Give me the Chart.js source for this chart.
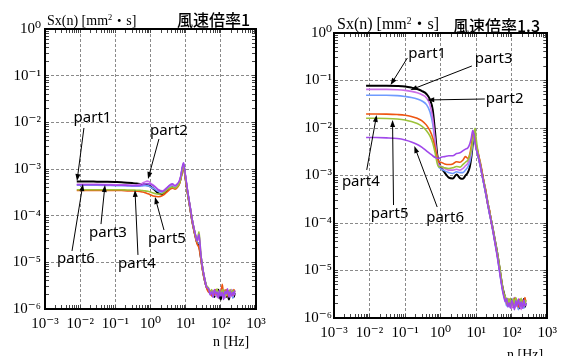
<!DOCTYPE html>
<html>
<head>
<meta charset="utf-8">
<script src="https://cdn.jsdelivr.net/npm/chart.js@4.4.1/dist/chart.umd.min.js"></script>
<style>
  html, body { margin: 0; padding: 0; background: #fff; }
  #page { position: relative; width: 567px; height: 356px; overflow: hidden; }
  canvas { position: absolute; top: 0; }
  .lbl { position: absolute; white-space: nowrap; color: #000; line-height: 1; }
  .serif { font-family: "Liberation Serif", "Noto Sans CJK JP", serif; }
  .jp { font-family: "Noto Sans CJK JP", sans-serif; font-weight: 500; }
  .lbl sup { font-size: 0.6em; vertical-align: 0; position: relative; top: -0.55em; }
</style>
</head>
<body>
<div id="page">
  <canvas id="chartLeft" width="283" height="356" style="left:0"></canvas>
  <canvas id="chartRight" width="284" height="356" style="left:283px"></canvas>
  <div class="lbl serif" style="left:47px; top:14px; font-size:14px">Sx(n) [mm<sup>2</sup>・s]</div>
  <div class="lbl jp" style="left:177px; top:11px; font-size:16px">風速倍率1</div>
  <div class="lbl serif" style="left:213px; top:335px; font-size:14px">n [Hz]</div>
  <div class="lbl serif" style="left:337px; top:16px; font-size:16px">Sx(n) [mm<sup>2</sup>・s]</div>
  <div class="lbl jp" style="left:453px; top:17px; font-size:16px">風速倍率1.3</div>
  <div class="lbl serif" style="left:507px; top:348px; font-size:14px">n [Hz]</div>
</div>
<script>
// frequency of every sample [Hz]
var freqHz = [0.008, 0.015, 0.03, 0.06, 0.1, 0.15, 0.22, 0.3, 0.4, 0.5, 0.6, 0.7, 0.8, 0.9,
  1.0, 1.3, 1.7, 2.2, 2.8, 3.5, 4.2, 5.0, 5.8, 6.6, 7.3, 8.0, 8.7, 9.3,
  10, 11, 12, 13.5, 15, 17, 19, 21, 24, 27, 30, 34, 39,
  45, 50, 55, 60, 66, 72, 78, 85, 92, 100, 110, 120, 130, 142, 155, 170, 185, 200, 220, 235, 250];

var partNames = ['part1', 'part2', 'part3', 'part4', 'part5', 'part6'];

// 風速倍率1  Sx(n) [mm2・s]
var r1_part1 = [5.4e-4, 5.4e-4, 5.35e-4, 5.3e-4, 5.25e-4, 5.2e-4, 5.1e-4, 5.0e-4, 4.9e-4, 4.8e-4, 4.7e-4, 4.6e-4, 4.5e-4, 4.4e-4,
  4.2e-4, 3.6e-4, 3.0e-4, 2.9e-4, 3.3e-4, 3.9e-4, 4.2e-4, 3.9e-4, 4.3e-4, 5.0e-4, 6.5e-4, 9.5e-4, 1.2e-3, 9.0e-4,
  6.0e-4, 3.6e-4, 2.4e-4, 1.4e-4, 8.5e-5, 5.2e-5, 3.6e-5, 2.7e-5, 2.4e-5, 1.3e-5, 7.5e-6, 4.5e-6, 3.0e-6,
  2.5e-6, 2.2e-6, 2.0e-6, 2.4e-6, 1.8e-6, 2.3e-6, 2.0e-6, 2.6e-6, 1.9e-6, 1.6e-6, 2.4e-6, 2.0e-6, 2.5e-6, 1.8e-6, 2.2e-6, 1.6e-6, 2.3e-6, 2.0e-6, 2.5e-6, 1.8e-6, 2.2e-6];
var r1_part2 = [4.5e-4, 4.5e-4, 4.5e-4, 4.45e-4, 4.4e-4, 4.4e-4, 4.35e-4, 4.3e-4, 4.3e-4, 4.3e-4, 4.35e-4, 4.4e-4, 4.4e-4, 4.3e-4,
  4.1e-4, 3.7e-4, 3.3e-4, 3.2e-4, 3.6e-4, 4.1e-4, 4.4e-4, 4.1e-4, 4.4e-4, 5.1e-4, 6.8e-4, 1.0e-3, 1.25e-3, 9.2e-4,
  6.2e-4, 3.7e-4, 2.45e-4, 1.4e-4, 8.6e-5, 5.3e-5, 3.7e-5, 2.6e-5, 2.6e-5, 1.3e-5, 7.4e-6, 4.4e-6, 2.9e-6,
  2.4e-6, 2.1e-6, 2.3e-6, 1.8e-6, 2.4e-6, 1.9e-6, 2.5e-6, 1.8e-6, 2.2e-6, 2.0e-6, 2.6e-6, 1.8e-6, 2.3e-6, 2.0e-6, 2.5e-6, 1.9e-6, 2.1e-6, 2.4e-6, 1.7e-6, 2.3e-6, 2.1e-6];
var r1_part3 = [4.7e-4, 4.7e-4, 4.7e-4, 4.65e-4, 4.6e-4, 4.6e-4, 4.55e-4, 4.5e-4, 4.55e-4, 4.7e-4, 5.0e-4, 5.3e-4, 5.5e-4, 5.4e-4,
  5.0e-4, 4.3e-4, 3.6e-4, 3.4e-4, 3.9e-4, 4.4e-4, 4.6e-4, 4.3e-4, 4.6e-4, 5.3e-4, 7.0e-4, 1.05e-3, 1.3e-3, 9.5e-4,
  6.5e-4, 3.8e-4, 2.5e-4, 1.45e-4, 8.8e-5, 5.5e-5, 3.8e-5, 2.8e-5, 3.4e-5, 1.4e-5, 7.8e-6, 4.6e-6, 3.1e-6,
  2.6e-6, 2.3e-6, 1.9e-6, 2.5e-6, 2.0e-6, 2.2e-6, 1.8e-6, 2.4e-6, 2.1e-6, 2.7e-6, 1.9e-6, 2.3e-6, 1.7e-6, 2.5e-6, 2.0e-6, 2.4e-6, 1.8e-6, 2.6e-6, 1.9e-6, 2.3e-6, 2.0e-6];
var r1_part4 = [3.45e-4, 3.45e-4, 3.45e-4, 3.45e-4, 3.45e-4, 3.45e-4, 3.4e-4, 3.4e-4, 3.35e-4, 3.3e-4, 3.2e-4, 3.1e-4, 3.0e-4, 2.9e-4,
  2.8e-4, 2.6e-4, 2.55e-4, 2.7e-4, 3.1e-4, 3.6e-4, 3.9e-4, 3.7e-4, 4.0e-4, 4.7e-4, 6.2e-4, 9.0e-4, 1.15e-3, 8.5e-4,
  5.6e-4, 3.4e-4, 2.3e-4, 1.35e-4, 8.2e-5, 5.0e-5, 3.4e-5, 2.5e-5, 2.0e-5, 1.2e-5, 7.0e-6, 4.3e-6, 2.9e-6,
  2.3e-6, 2.5e-6, 1.9e-6, 2.2e-6, 2.0e-6, 2.6e-6, 2.1e-6, 1.8e-6, 2.4e-6, 2.2e-6, 3.4e-6, 2.0e-6, 2.2e-6, 2.6e-6, 1.9e-6, 2.5e-6, 2.1e-6, 2.3e-6, 2.0e-6, 2.6e-6, 2.3e-6];
var r1_part5 = [3.6e-4, 3.6e-4, 3.6e-4, 3.6e-4, 3.6e-4, 3.6e-4, 3.55e-4, 3.55e-4, 3.5e-4, 3.5e-4, 3.45e-4, 3.4e-4, 3.35e-4, 3.3e-4,
  3.2e-4, 3.0e-4, 2.9e-4, 3.0e-4, 3.5e-4, 3.9e-4, 4.1e-4, 3.9e-4, 4.2e-4, 4.9e-4, 6.4e-4, 9.5e-4, 1.25e-3, 9.0e-4,
  6.2e-4, 3.6e-4, 2.4e-4, 1.45e-4, 9.0e-5, 5.6e-5, 3.8e-5, 2.8e-5, 4.5e-5, 1.5e-5, 8.0e-6, 4.7e-6, 3.2e-6,
  2.8e-6, 2.2e-6, 2.6e-6, 2.0e-6, 2.5e-6, 2.2e-6, 2.7e-6, 2.0e-6, 2.4e-6, 2.1e-6, 2.6e-6, 2.2e-6, 2.5e-6, 1.9e-6, 2.4e-6, 2.2e-6, 2.6e-6, 2.1e-6, 2.5e-6, 2.2e-6, 2.4e-6];
var r1_part6 = [4.6e-4, 4.6e-4, 4.6e-4, 4.55e-4, 4.5e-4, 4.5e-4, 4.45e-4, 4.4e-4, 4.4e-4, 4.45e-4, 4.6e-4, 4.75e-4, 4.9e-4, 4.8e-4,
  4.7e-4, 4.2e-4, 3.5e-4, 3.3e-4, 3.8e-4, 4.5e-4, 4.8e-4, 4.4e-4, 4.8e-4, 5.6e-4, 7.2e-4, 1.1e-3, 1.35e-3, 1.0e-3,
  6.8e-4, 4.0e-4, 2.6e-4, 1.5e-4, 9.0e-5, 5.6e-5, 3.9e-5, 2.9e-5, 4.0e-5, 1.5e-5, 8.0e-6, 4.8e-6, 3.0e-6,
  2.7e-6, 2.0e-6, 2.4e-6, 1.8e-6, 2.6e-6, 2.1e-6, 2.3e-6, 1.7e-6, 2.5e-6, 1.9e-6, 2.3e-6, 1.6e-6, 2.4e-6, 2.1e-6, 2.7e-6, 1.8e-6, 2.4e-6, 1.9e-6, 2.3e-6, 2.0e-6, 2.5e-6];

// 風速倍率1.3  Sx(n) [mm2・s]
var r13_part1 = [0.078, 0.078, 0.078, 0.077, 0.075, 0.071, 0.066, 0.06, 0.052, 0.04, 0.024, 0.008, 0.0028, 0.0018,
  1.5e-3, 1.15e-3, 9.0e-4, 8.6e-4, 1.05e-3, 8.8e-4, 8.5e-4, 1.0e-3, 1.15e-3, 1.5e-3, 2.4e-3, 4.5e-3, 8.0e-3, 6.5e-3,
  4.0e-3, 3.0e-3, 2.2e-3, 1.5e-3, 1.0e-3, 6.2e-4, 4.0e-4, 2.7e-4, 1.6e-4, 1.05e-4, 7.0e-5, 4.2e-5, 2.4e-5,
  1.2e-5, 7.0e-6, 4.5e-6, 3.4e-6, 2.6e-6, 2.2e-6, 1.9e-6, 2.3e-6, 1.8e-6, 2.4e-6, 1.7e-6, 2.2e-6, 2.5e-6, 1.8e-6, 2.3e-6, 1.6e-6, 2.4e-6, 1.9e-6, 2.5e-6, 1.7e-6, 2.1e-6];
var r13_part2 = [0.049, 0.049, 0.049, 0.048, 0.046, 0.044, 0.041, 0.037, 0.031, 0.022, 0.012, 0.0048, 0.0021, 0.0015,
  1.4e-3, 1.25e-3, 1.15e-3, 1.1e-3, 1.2e-3, 1.15e-3, 1.15e-3, 1.3e-3, 1.5e-3, 1.9e-3, 2.8e-3, 5.0e-3, 7.5e-3, 6.0e-3,
  3.8e-3, 2.8e-3, 2.1e-3, 1.4e-3, 9.0e-4, 5.8e-4, 3.8e-4, 2.5e-4, 1.5e-4, 9.5e-5, 6.2e-5, 3.6e-5, 2.0e-5,
  1.0e-5, 6.0e-6, 4.0e-6, 3.0e-6, 2.3e-6, 1.8e-6, 2.2e-6, 1.7e-6, 2.3e-6, 1.9e-6, 2.6e-6, 1.6e-6, 2.2e-6, 2.0e-6, 1.5e-6, 2.4e-6, 1.8e-6, 2.2e-6, 1.6e-6, 2.3e-6, 1.9e-6];
var r13_part3 = [0.065, 0.065, 0.065, 0.064, 0.062, 0.059, 0.055, 0.05, 0.043, 0.031, 0.016, 0.0055, 0.0024, 0.0017,
  1.6e-3, 1.4e-3, 1.3e-3, 1.3e-3, 1.35e-3, 1.3e-3, 1.4e-3, 1.6e-3, 1.8e-3, 2.3e-3, 3.3e-3, 6.0e-3, 8.5e-3, 6.5e-3,
  4.2e-3, 3.1e-3, 2.3e-3, 1.5e-3, 9.5e-4, 6.5e-4, 4.1e-4, 2.8e-4, 1.7e-4, 1.0e-4, 6.8e-5, 4.0e-5, 2.2e-5,
  1.1e-5, 6.5e-6, 4.2e-6, 3.1e-6, 2.4e-6, 2.0e-6, 2.5e-6, 1.8e-6, 2.1e-6, 1.6e-6, 2.3e-6, 2.7e-6, 1.7e-6, 2.4e-6, 1.9e-6, 2.2e-6, 1.5e-6, 2.4e-6, 2.0e-6, 2.6e-6, 1.8e-6];
var r13_part4 = [0.0197, 0.0197, 0.0196, 0.0192, 0.0186, 0.0175, 0.016, 0.0142, 0.0115, 0.0088, 0.0062, 0.0038, 0.0024, 0.0019,
  1.9e-3, 1.75e-3, 1.7e-3, 1.75e-3, 1.95e-3, 1.9e-3, 2.1e-3, 2.5e-3, 2.3e-3, 2.8e-3, 4.2e-3, 6.8e-3, 8.5e-3, 6.0e-3,
  4.5e-3, 3.4e-3, 2.5e-3, 1.7e-3, 1.1e-3, 6.5e-4, 4.6e-4, 2.6e-4, 1.8e-4, 1.0e-4, 6.8e-5, 4.0e-5, 2.2e-5,
  1.2e-5, 7.0e-6, 4.4e-6, 3.2e-6, 2.5e-6, 2.2e-6, 1.8e-6, 2.5e-6, 2.0e-6, 2.3e-6, 1.9e-6, 2.6e-6, 2.0e-6, 2.2e-6, 1.7e-6, 2.5e-6, 2.0e-6, 2.3e-6, 1.8e-6, 2.7e-6, 2.2e-6];
var r13_part5 = [0.016, 0.016, 0.0159, 0.0155, 0.0148, 0.0137, 0.0124, 0.0108, 0.0088, 0.0068, 0.0048, 0.003, 0.0018, 0.0015,
  1.55e-3, 1.45e-3, 1.4e-3, 1.45e-3, 1.55e-3, 1.5e-3, 1.7e-3, 1.9e-3, 2.1e-3, 2.6e-3, 3.6e-3, 5.5e-3, 8.0e-3, 9.8e-3,
  6.0e-3, 3.5e-3, 2.4e-3, 1.6e-3, 1.0e-3, 6.8e-4, 4.3e-4, 2.9e-4, 1.7e-4, 1.1e-4, 7.2e-5, 4.3e-5, 2.5e-5,
  1.3e-5, 7.5e-6, 4.6e-6, 3.3e-6, 2.8e-6, 2.1e-6, 2.6e-6, 2.0e-6, 2.6e-6, 1.8e-6, 2.5e-6, 2.0e-6, 2.7e-6, 1.9e-6, 2.4e-6, 2.1e-6, 2.6e-6, 1.8e-6, 2.3e-6, 2.0e-6, 2.4e-6];
var r13_part6 = [0.0063, 0.0063, 0.0062, 0.006, 0.0056, 0.0051, 0.0045, 0.0039, 0.0033, 0.0029, 0.0026, 0.0024, 0.0023, 0.0023,
  2.4e-3, 2.5e-3, 2.6e-3, 2.6e-3, 2.9e-3, 3.0e-3, 3.3e-3, 3.6e-3, 3.8e-3, 4.6e-3, 6.2e-3, 8.8e-3, 7.2e-3, 5.0e-3,
  3.6e-3, 2.9e-3, 2.2e-3, 1.45e-3, 9.5e-4, 6.0e-4, 4.0e-4, 2.6e-4, 1.55e-4, 1.0e-4, 6.5e-5, 3.8e-5, 2.1e-5,
  1.0e-5, 6.0e-6, 3.8e-6, 2.8e-6, 2.2e-6, 2.6e-6, 1.7e-6, 2.1e-6, 1.6e-6, 2.4e-6, 1.9e-6, 1.5e-6, 2.3e-6, 1.8e-6, 2.5e-6, 1.7e-6, 2.2e-6, 1.6e-6, 2.4e-6, 1.8e-6, 2.0e-6];

var partColors = ['#000000', '#6f9bff', '#cc6fe8', '#ee5511', '#9cc23a', '#a048ea'];

// arrow notes, in data coordinates: label centre, arrow tail, arrow head
var notesR1 = [
  {label: 'part1', at: [0.0224, 0.0124], from: [0.0128, 0.00757], to: [0.00813, 5.5e-4]},
  {label: 'part2', at: [3.36, 0.00652], from: [1.74, 0.0044], to: [0.85, 6.1e-4]},
  {label: 'part3', at: [0.0618, 4.25e-5], from: [0.0391, 6.6e-5], to: [0.0508, 4.54e-4]},
  {label: 'part6', at: [0.0076, 1.18e-5], from: [0.00586, 1.75e-5], to: [0.012, 4.77e-4]},
  {label: 'part4', at: [0.413, 9.2e-6], from: [0.44, 1.44e-5], to: [0.362, 3.55e-4]},
  {label: 'part5', at: [2.94, 3.16e-5], from: [2.42, 4.93e-5], to: [1.34, 2.51e-4]}
];
var notesR13 = [
  {label: 'part1', at: [0.42, 0.361], from: [0.116, 0.298], to: [0.039, 0.0804]},
  {label: 'part3', at: [31.1, 0.284], from: [7.57, 0.202], to: [0.141, 0.063]},
  {label: 'part2', at: [63.1, 0.0408], from: [17.5, 0.0408], to: [0.42, 0.0389]},
  {label: 'part4', at: [0.00568, 7.3e-4], from: [0.00834, 1.31e-3], to: [0.0158, 0.0188]},
  {label: 'part5', at: [0.0366, 1.55e-4], from: [0.0473, 2.39e-4], to: [0.0444, 0.0147]},
  {label: 'part6', at: [1.34, 1.27e-4], from: [0.8, 2.17e-4], to: [0.182, 4.18e-3]}
];

var supDigits = {'-': '\u207B', '0': '\u2070', '1': '\u00B9', '2': '\u00B2', '3': '\u00B3',
  '4': '\u2074', '5': '\u2075', '6': '\u2076', '7': '\u2077', '8': '\u2078', '9': '\u2079'};

// tiny stand-in for the underscore helper used elsewhere
var _ = { each: function(list, fn) { for (var i = 0; i < list.length; i++) fn(list[i], i, list); } };

function isDecade(v) {
  var l = Math.log10(v);
  return Math.abs(l - Math.round(l)) < 1e-6;
}

function decadeLabel(v) {
  if (!isDecade(v)) return '';
  var e = String(Math.round(Math.log10(v)));
  return '10' + e.split('').map(function(c) { return supDigits[c]; }).join('');
}

// keep 1..9 x 10^n ticks only
function wholeMantissa(scale) {
  scale.ticks = scale.ticks.filter(function(t) {
    var m = t.value / Math.pow(10, Math.floor(Math.log10(t.value) + 1e-9));
    return Math.abs(m - Math.round(m)) < 1e-6;
  });
}

var notesPlugin = {
  id: 'partNotes',
  afterDraw: function(chart, args, opts) {
    var ctx = chart.ctx, sx = chart.scales.x, sy = chart.scales.y;
    ctx.save();
    ctx.font = '15px "Noto Sans", sans-serif';
    ctx.textAlign = 'center';
    ctx.textBaseline = 'middle';
    ctx.fillStyle = '#000';
    ctx.strokeStyle = '#000';
    ctx.lineWidth = 1;
    _.each(opts.items, function(n) {
      ctx.fillText(n.label, sx.getPixelForValue(n.at[0]), sy.getPixelForValue(n.at[1]));
      var x0 = sx.getPixelForValue(n.from[0]), y0 = sy.getPixelForValue(n.from[1]);
      var x1 = sx.getPixelForValue(n.to[0]), y1 = sy.getPixelForValue(n.to[1]);
      var a = Math.atan2(y1 - y0, x1 - x0);
      ctx.beginPath();
      ctx.moveTo(x0, y0);
      ctx.lineTo(x1 - 5 * Math.cos(a), y1 - 5 * Math.sin(a));
      ctx.stroke();
      ctx.beginPath();
      ctx.moveTo(x1, y1);
      ctx.lineTo(x1 - 7 * Math.cos(a) + 2.5 * Math.sin(a), y1 - 7 * Math.sin(a) - 2.5 * Math.cos(a));
      ctx.lineTo(x1 - 7 * Math.cos(a) - 2.5 * Math.sin(a), y1 - 7 * Math.sin(a) + 2.5 * Math.cos(a));
      ctx.closePath();
      ctx.fill();
    });
    ctx.restore();
  }
};

function makePanel(canvasId, series, notes, box) {
  var datasets = [];
  _.each(series, function(values, index) {
    datasets.push({
      label: partNames[index],
      data: freqHz.map(function(f, i) { return {x: f, y: values[i]}; }),
      borderColor: partColors[index],
      borderWidth: index === 0 ? 2 : 1.6,
      pointRadius: 0,
      fill: false,
      cubicInterpolationMode: 'monotone',
      order: series.length - 1 - index
    });
  });

  var tickFont = {family: '"Liberation Serif", "DejaVu Serif", serif', size: 15};
  var gridColor = function(c) { return c.tick && isDecade(c.tick.value) ? '#8a8a8a' : 'rgba(0,0,0,0)'; };

  var ctx = document.getElementById(canvasId).getContext('2d');
  return new Chart(ctx, {
    type: 'line',
    data: {datasets: datasets},
    plugins: [notesPlugin],
    options: {
      responsive: false,
      animation: false,
      layout: {padding: {top: box.top, right: box.right, left: 0, bottom: 0}},
      plugins: {
        legend: {display: false},
        tooltip: {enabled: false},
        partNotes: {items: notes}
      },
      scales: {
        x: {
          type: 'logarithmic', position: 'bottom', min: 1e-3, max: 1e3,
          afterBuildTicks: wholeMantissa,
          afterFit: function(s) { s.height = box.xh; },
          ticks: {autoSkip: false, maxRotation: 0, minRotation: 0, padding: box.xpad,
                  color: '#000', font: tickFont, callback: decadeLabel},
          grid: {color: gridColor, lineWidth: 1, tickLength: -4, tickColor: '#444', tickWidth: 1},
          border: {display: true, color: '#000', width: 2, dash: [3, 2]}
        },
        x2: {
          type: 'logarithmic', position: 'top', min: 1e-3, max: 1e3,
          afterBuildTicks: wholeMantissa,
          afterFit: function(s) { s.height = 0; },
          ticks: {display: false},
          grid: {drawOnChartArea: false, tickLength: -4, tickColor: '#444', tickWidth: 1},
          border: {display: true, color: '#000', width: 2}
        },
        y: {
          type: 'logarithmic', position: 'left', min: 1e-6, max: 1,
          afterBuildTicks: wholeMantissa,
          afterFit: function(s) { s.width = box.yw; },
          ticks: {autoSkip: false, padding: box.ypad, color: '#000', font: tickFont, callback: decadeLabel},
          grid: {color: gridColor, lineWidth: 1, tickLength: -4, tickColor: '#444', tickWidth: 1},
          border: {display: true, color: '#000', width: 2, dash: [3, 2]}
        },
        y2: {
          type: 'logarithmic', position: 'right', min: 1e-6, max: 1,
          afterBuildTicks: wholeMantissa,
          afterFit: function(s) { s.width = 0; },
          ticks: {display: false},
          grid: {drawOnChartArea: false, tickLength: -4, tickColor: '#444', tickWidth: 1},
          border: {display: true, color: '#000', width: 2}
        }
      }
    }
  });
}

makePanel('chartLeft', [r1_part1, r1_part2, r1_part3, r1_part4, r1_part5, r1_part6], notesR1,
  {top: 29, right: 27, yw: 45, xh: 47, xpad: 10, ypad: 8});
makePanel('chartRight', [r13_part1, r13_part2, r13_part3, r13_part4, r13_part5, r13_part6], notesR13,
  {top: 33, right: 18, yw: 51, xh: 38, xpad: 10, ypad: 6});
</script>
</body>
</html>
